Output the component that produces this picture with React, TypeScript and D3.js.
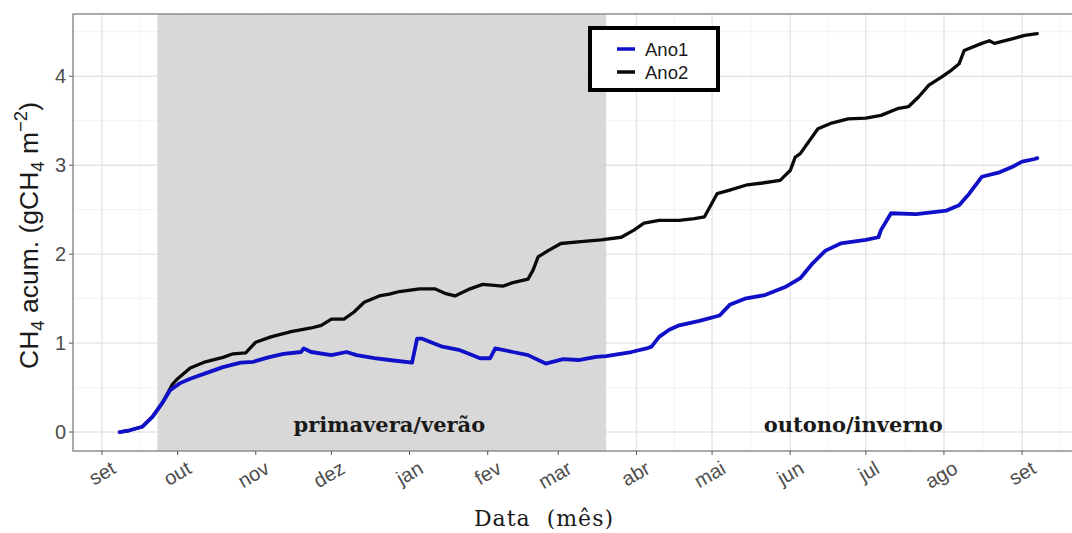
import React from "react";
import * as d3 from "d3";

// ---- data ----
const monthLabels = ["set", "out", "nov", "dez", "jan", "fev", "mar", "abr", "mai", "jun", "jul", "ago", "set"];
const yTicks = [0, 1, 2, 3, 4];
const seriesNames = ["Ano1", "Ano2"];
const seasonLabels = ["primavera/verão", "outono/inverno"];
const seasonLabelDates = ["2017-12-24", "2018-06-26"];
const shadeDates = ["2017-09-23", "2018-03-20"];

const ano1: [string, number][] = [
  ["2017-09-08", 0.0], ["2017-09-12", 0.02], ["2017-09-17", 0.06], ["2017-09-21", 0.17],
  ["2017-09-25", 0.33], ["2017-09-28", 0.47], ["2017-10-02", 0.55], ["2017-10-06", 0.6],
  ["2017-10-12", 0.66], ["2017-10-19", 0.73], ["2017-10-26", 0.78], ["2017-10-31", 0.79],
  ["2017-11-06", 0.84], ["2017-11-12", 0.88], ["2017-11-19", 0.9], ["2017-11-20", 0.94],
  ["2017-11-23", 0.9], ["2017-12-01", 0.865], ["2017-12-07", 0.9], ["2017-12-11", 0.865],
  ["2017-12-18", 0.83], ["2017-12-24", 0.81], ["2018-01-02", 0.78], ["2018-01-04", 1.05],
  ["2018-01-06", 1.05], ["2018-01-14", 0.96], ["2018-01-21", 0.92], ["2018-01-29", 0.83],
  ["2018-02-02", 0.83], ["2018-02-04", 0.94], ["2018-02-11", 0.9], ["2018-02-17", 0.865],
  ["2018-02-24", 0.77], ["2018-03-03", 0.82], ["2018-03-09", 0.81], ["2018-03-16", 0.846],
  ["2018-03-20", 0.854], ["2018-03-30", 0.9], ["2018-04-05", 0.94], ["2018-04-07", 0.96],
  ["2018-04-10", 1.07], ["2018-04-14", 1.15], ["2018-04-18", 1.2], ["2018-04-26", 1.25],
  ["2018-05-04", 1.31], ["2018-05-08", 1.43], ["2018-05-14", 1.5], ["2018-05-22", 1.54],
  ["2018-05-30", 1.63], ["2018-06-05", 1.73], ["2018-06-10", 1.9], ["2018-06-15", 2.04],
  ["2018-06-21", 2.12], ["2018-07-01", 2.16], ["2018-07-06", 2.19], ["2018-07-07", 2.27],
  ["2018-07-11", 2.46], ["2018-07-21", 2.45], ["2018-08-02", 2.49], ["2018-08-07", 2.55],
  ["2018-08-11", 2.68], ["2018-08-16", 2.87], ["2018-08-23", 2.92], ["2018-08-28", 2.98],
  ["2018-09-01", 3.04], ["2018-09-06", 3.07], ["2018-09-07", 3.08],
];

const ano2: [string, number][] = [
  ["2017-09-08", 0.0], ["2017-09-12", 0.02], ["2017-09-17", 0.06], ["2017-09-21", 0.17],
  ["2017-09-25", 0.33], ["2017-09-29", 0.54], ["2017-10-01", 0.6], ["2017-10-06", 0.72],
  ["2017-10-12", 0.79], ["2017-10-19", 0.84], ["2017-10-23", 0.88], ["2017-10-28", 0.89],
  ["2017-11-01", 1.01], ["2017-11-07", 1.07], ["2017-11-15", 1.13], ["2017-11-23", 1.17],
  ["2017-11-27", 1.2], ["2017-12-01", 1.27], ["2017-12-06", 1.27], ["2017-12-10", 1.35],
  ["2017-12-14", 1.46], ["2017-12-20", 1.53], ["2017-12-24", 1.55], ["2017-12-28", 1.58],
  ["2018-01-05", 1.61], ["2018-01-11", 1.61], ["2018-01-15", 1.56], ["2018-01-19", 1.53],
  ["2018-01-25", 1.61], ["2018-01-30", 1.66], ["2018-02-07", 1.64], ["2018-02-11", 1.68],
  ["2018-02-17", 1.72], ["2018-02-19", 1.82], ["2018-02-21", 1.97], ["2018-02-25", 2.04],
  ["2018-03-02", 2.12], ["2018-03-10", 2.14], ["2018-03-18", 2.16], ["2018-03-26", 2.19],
  ["2018-03-31", 2.27], ["2018-04-04", 2.35], ["2018-04-10", 2.38], ["2018-04-18", 2.38],
  ["2018-04-24", 2.4], ["2018-04-28", 2.42], ["2018-05-03", 2.68], ["2018-05-08", 2.72],
  ["2018-05-15", 2.78], ["2018-05-21", 2.8], ["2018-05-28", 2.83], ["2018-06-01", 2.94],
  ["2018-06-03", 3.09], ["2018-06-05", 3.13], ["2018-06-12", 3.41], ["2018-06-17", 3.47],
  ["2018-06-24", 3.52], ["2018-07-01", 3.53], ["2018-07-07", 3.56], ["2018-07-14", 3.64],
  ["2018-07-18", 3.66], ["2018-07-22", 3.77], ["2018-07-26", 3.9], ["2018-07-31", 3.99],
  ["2018-08-04", 4.07], ["2018-08-07", 4.14], ["2018-08-09", 4.29], ["2018-08-16", 4.37],
  ["2018-08-19", 4.4], ["2018-08-21", 4.37], ["2018-08-28", 4.42], ["2018-09-02", 4.46],
  ["2018-09-07", 4.48],
];

// ---- layout ----
const W = 1072;
const H = 533;
const P = { left: 73, right: 1082, top: 14, bottom: 451 };
const COLORS = ["#1010c8", "#0a0a0a"];

const parse = d3.timeParse("%Y-%m-%d");

export default function App() {
  const x = d3
    .scaleTime()
    .domain([new Date(2017, 7, 20, 12), new Date(2018, 8, 24, 18)])
    .range([P.left, P.right]);
  const y = d3.scaleLinear().domain([-0.213, 4.7]).range([P.bottom, P.top]);

  const majors = d3.timeMonth.range(new Date(2017, 8, 1), new Date(2018, 8, 2));
  const minors: Date[] = [];
  for (let i = 0; i < majors.length - 1; i++) {
    minors.push(new Date((majors[i].getTime() + majors[i + 1].getTime()) / 2));
  }
  minors.push(new Date(2018, 8, 16));
  const yMinor = [0.5, 1.5, 2.5, 3.5, 4.5];

  const line = d3
    .line<[string, number]>()
    .x((d) => x(parse(d[0]) as Date))
    .y((d) => y(d[1]))
    .curve(d3.curveLinear);

  const sans = "'Liberation Sans', Arial, Helvetica, sans-serif";
  const serif = "'DejaVu Serif', serif";

  const s0 = x(parse(shadeDates[0]) as Date);
  const s1 = x(parse(shadeDates[1]) as Date);

  const legendX = 590;
  const legendY = 28;
  const series = [ano1, ano2];

  return (
    <svg width={W} height={H} style={{ position: "absolute", left: 0, top: 0, background: "#fff" }}>
      <defs>
        <clipPath id="panel">
          <rect x={P.left} y={P.top} width={P.right - P.left} height={P.bottom - P.top} />
        </clipPath>
      </defs>
      <rect x={0} y={0} width={W} height={H} fill="#fff" />
      {/* grid */}
      <g clipPath="url(#panel)">
        {minors.map((d, i) => (
          <line key={"mx" + i} x1={x(d)} x2={x(d)} y1={P.top} y2={P.bottom} stroke="#f2f2f2" strokeWidth={1} />
        ))}
        {yMinor.map((v, i) => (
          <line key={"my" + i} x1={P.left} x2={P.right} y1={y(v)} y2={y(v)} stroke="#f2f2f2" strokeWidth={1} />
        ))}
        {majors.map((d, i) => (
          <line key={"gx" + i} x1={x(d)} x2={x(d)} y1={P.top} y2={P.bottom} stroke="#e4e4e4" strokeWidth={1.4} />
        ))}
        {yTicks.map((v, i) => (
          <line key={"gy" + i} x1={P.left} x2={P.right} y1={y(v)} y2={y(v)} stroke="#e4e4e4" strokeWidth={1.4} />
        ))}
        <rect x={s0} y={P.top} width={s1 - s0} height={P.bottom - P.top} fill="#d5d5d5" opacity={0.92} />
        {[1, 0].map((i) => (
          <path
            key={"l" + i}
            d={line(series[i]) || ""}
            fill="none"
            stroke={COLORS[i]}
            strokeWidth={i === 0 ? 3.8 : 3.3}
            strokeLinejoin="round"
            strokeLinecap="round"
          />
        ))}
        {seasonLabels.map((t, i) => (
          <text
            key={"s" + i}
            x={x(parse(seasonLabelDates[i]) as Date)}
            y={y(0.005)}
            textAnchor="middle"
            fontFamily={serif}
            fontWeight="bold"
            fontSize={21}
            fill="#1a1a1a"
          >
            {t}
          </text>
        ))}
      </g>
      {/* panel border */}
      <rect
        x={P.left}
        y={P.top}
        width={P.right - P.left}
        height={P.bottom - P.top}
        fill="none"
        stroke="#8f8f8f"
        strokeWidth={1.5}
      />
      {/* y axis */}
      {yTicks.map((v) => (
        <g key={"yt" + v}>
          <line x1={P.left - 4} x2={P.left} y1={y(v)} y2={y(v)} stroke="#555" strokeWidth={1} />
          <text
            x={P.left - 7}
            y={y(v)}
            dy="0.36em"
            textAnchor="end"
            fontFamily={sans}
            fontSize={20}
            fill="#4d4d4d"
          >
            {v}
          </text>
        </g>
      ))}
      {/* x axis */}
      {majors.map((d, i) => {
        const tx = x(d);
        return (
          <g key={"xt" + i}>
            <line x1={tx} x2={tx} y1={P.bottom} y2={P.bottom + 4} stroke="#555" strokeWidth={1} />
            <text
              transform={`translate(${tx + 8},${P.bottom + 9}) rotate(-30)`}
              dy="0.71em"
              textAnchor="end"
              fontFamily={sans}
              fontSize={20}
              fill="#4d4d4d"
            >
              {monthLabels[i]}
            </text>
          </g>
        );
      })}
      {/* axis titles */}
      <text
        x={544}
        y={526}
        textAnchor="middle"
        fontFamily={serif}
        fontSize={22}
        letterSpacing={1}
        fill="#1a1a1a"
        style={{ whiteSpace: "pre" }}
      >
        {"Data  (mês)"}
      </text>
      <text
        transform={`translate(38,${(P.top + P.bottom) / 2 + 3}) rotate(-90)`}
        textAnchor="middle"
        fontFamily={sans}
        fontSize={26.5}
        fill="#1a1a1a"
      >
        <tspan>CH</tspan>
        <tspan fontSize={18.5} dy={5.5}>4</tspan>
        <tspan dy={-5.5}> acum. (gCH</tspan>
        <tspan fontSize={18.5} dy={5.5}>4</tspan>
        <tspan dy={-5.5}> m</tspan>
        <tspan fontSize={18.5} dy={-11}>−2</tspan>
        <tspan dy={11}>)</tspan>
      </text>
      {/* legend */}
      <rect x={legendX} y={legendY} width={128} height={62} fill="#fff" stroke="#000" strokeWidth={4} />
      {seriesNames.map((n, i) => (
        <g key={"lg" + i}>
          <line
            x1={legendX + 27}
            x2={legendX + 45}
            y1={legendY + 21 + i * 23}
            y2={legendY + 21 + i * 23}
            stroke={COLORS[i]}
            strokeWidth={3.5}
          />
          <text
            x={legendX + 55}
            y={legendY + 21 + i * 23}
            dy="0.36em"
            fontFamily={sans}
            fontSize={18.5}
            fill="#1a1a1a"
          >
            {n}
          </text>
        </g>
      ))}
    </svg>
  );
}
